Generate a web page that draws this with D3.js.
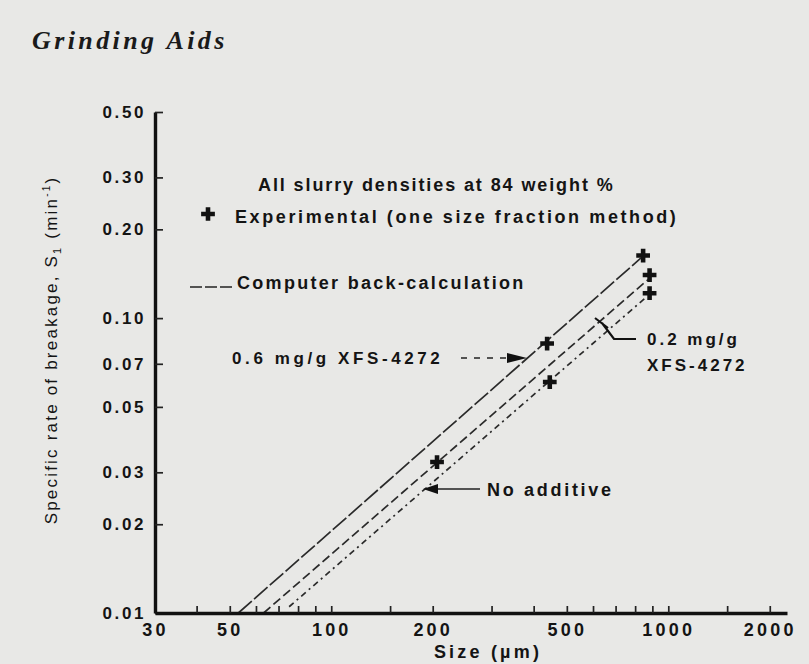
<!DOCTYPE html>
<html>
<head>
<meta charset="utf-8">
<script src="https://cdn.jsdelivr.net/npm/d3@7"></script>
<style>
  body { margin: 0; background: #e8e8e6; }
  svg { display: block; }
  .lbl { font-family: "Liberation Sans", Arial, sans-serif; font-weight: bold; fill: #141414; }
</style>
</head>
<body>
<svg id="chart"></svg>
<script>
const width = 809
const height = 664

// ticks
const yTicks = [0.01, 0.02, 0.03, 0.05, 0.07, 0.1, 0.2, 0.3, 0.5]
const xMajor = [30, 50, 100, 200, 500, 1000, 2000]
const xMinor = [40, 60, 70, 80, 90, 150, 300, 400, 600, 700, 800, 900, 1500]

// experimental points (one size fraction method)
const expSize06 = [437, 842]
const expRate06 = [0.082, 0.163]
const expSize02 = [206, 880]
const expRate02 = [0.0325, 0.14]
const expSizeNone = [445, 880]
const expRateNone = [0.0607, 0.1215]

// computer back-calculation lines
const fitSize06 = [53, 830]
const fitRate06 = [0.01, 0.16]
const fitSize02 = [63, 870]
const fitRate02 = [0.01, 0.135]
const fitSizeNone = [75, 862]
const fitRateNone = [0.0105, 0.118]

const x = d3.scaleLog().domain([30, 2250]).range([155, 787])
const y = d3.scaleLog().domain([0.01, 0.5]).range([613, 112])

const svg = d3.select('#chart').attr('width', width).attr('height', height)

// title
svg.append('text')
  .attr('x', 32).attr('y', 49)
  .style('font-family', '"Liberation Serif", "DejaVu Serif", serif')
  .style('font-weight', 'bold').style('font-style', 'italic')
  .style('font-size', '26px').style('letter-spacing', '3.4px')
  .style('fill', '#1a1a1a')
  .text('Grinding Aids')

// fitted lines
const lines = [
  { size: fitSize06, rate: fitRate06, dash: '18,3' },
  { size: fitSize02, rate: fitRate02, dash: '9,4' },
  { size: fitSizeNone, rate: fitRateNone, dash: '6,4,2,4' }
]
const line = d3.line().x(d => x(d[0])).y(d => y(d[1]))
svg.selectAll('path.fit')
  .data(lines)
  .enter()
  .append('path')
  .attr('class', 'fit')
  .attr('d', d => line(d.size.map((s, i) => [s, d.rate[i]])))
  .attr('fill', 'none')
  .attr('stroke', '#2a2a2a')
  .attr('stroke-width', 1.7)
  .attr('stroke-dasharray', d => d.dash)

// experimental crosses
const points = []
;[[expSize06, expRate06], [expSize02, expRate02], [expSizeNone, expRateNone]].forEach(([s, r]) => {
  s.forEach((v, i) => points.push([v, r[i]]))
})
const cross = d3.symbol().type(d3.symbolCross).size(105)
svg.selectAll('path.pt')
  .data(points)
  .enter()
  .append('path')
  .attr('class', 'pt')
  .attr('d', cross)
  .attr('transform', d => `translate(${x(d[0])},${y(d[1])})`)
  .attr('fill', '#111')

// y axis
const yAxis = d3.axisLeft(y)
  .tickValues(yTicks)
  .tickFormat(d3.format('.2f'))
  .tickSizeInner(-8)
  .tickSizeOuter(0)
  .tickPadding(9)
const gy = svg.append('g').attr('transform', 'translate(155,0)').call(yAxis)
gy.select('.domain').attr('stroke', '#111').attr('stroke-width', 3.4)
gy.selectAll('.tick line').attr('stroke', '#222').attr('stroke-width', 1.7)
gy.selectAll('.tick text')
  .attr('class', 'lbl')
  .style('font-size', '17px')
  .style('letter-spacing', '2.6px')

// x axis
const xAxis = d3.axisBottom(x)
  .tickValues(xMajor)
  .tickFormat(d3.format('d'))
  .tickSizeInner(-7)
  .tickSizeOuter(0)
  .tickPadding(10)
const gx = svg.append('g').attr('transform', 'translate(0,613)').call(xAxis)
gx.select('.domain').attr('stroke', '#111').attr('stroke-width', 3.4)
gx.selectAll('.tick line').attr('stroke', '#222').attr('stroke-width', 1.7)
gx.selectAll('.tick text')
  .attr('class', 'lbl')
  .style('font-size', '18px')
  .style('letter-spacing', '3.2px')
gx.selectAll('.tick').filter(d => d === 30).select('line').remove()

svg.append('g')
  .selectAll('line')
  .data(xMinor)
  .enter()
  .append('line')
  .attr('x1', d => x(d)).attr('x2', d => x(d))
  .attr('y1', 613).attr('y2', 606)
  .attr('stroke', '#222')
  .attr('stroke-width', 1.7)

// axis titles
svg.append('text')
  .attr('class', 'lbl')
  .attr('transform', 'translate(57,350) rotate(-90)')
  .attr('text-anchor', 'middle')
  .style('font-size', '17px')
  .style('font-weight', 'normal')
  .style('letter-spacing', '2.2px')
  .html('Specific rate of breakage, S<tspan dy="4" font-size="11">1</tspan><tspan dy="-4">  (min</tspan><tspan dy="-7" font-size="10">-1</tspan><tspan dy="7">)</tspan>')

svg.append('text')
  .attr('class', 'lbl')
  .attr('x', 488).attr('y', 658)
  .attr('text-anchor', 'middle')
  .style('font-size', '18px')
  .style('letter-spacing', '3.2px')
  .text('Size (\u00b5m)')

// legend
const legend = svg.append('g')
legend.append('text')
  .attr('class', 'lbl')
  .attr('x', 258).attr('y', 191)
  .style('font-size', '18px').style('letter-spacing', '1.9px')
  .text('All slurry densities at 84 weight %')
legend.append('path')
  .attr('d', cross)
  .attr('transform', 'translate(208,214)')
  .attr('fill', '#111')
legend.append('text')
  .attr('class', 'lbl')
  .attr('x', 235).attr('y', 223)
  .style('font-size', '18px').style('letter-spacing', '2.6px')
  .text('Experimental (one size fraction method)')
legend.append('line')
  .attr('x1', 190).attr('x2', 232).attr('y1', 287).attr('y2', 287)
  .attr('stroke', '#222').attr('stroke-width', 1.7)
  .attr('stroke-dasharray', '12,3')
legend.append('text')
  .attr('class', 'lbl')
  .attr('x', 237).attr('y', 289)
  .style('font-size', '18px').style('letter-spacing', '2.3px')
  .text('Computer back-calculation')

// annotations
const ann = svg.append('g')
ann.append('text')
  .attr('class', 'lbl')
  .attr('x', 232).attr('y', 364)
  .style('font-size', '17px').style('letter-spacing', '3.6px')
  .text('0.6 mg/g XFS-4272')
ann.append('line')
  .attr('x1', 461).attr('x2', 514).attr('y1', 358).attr('y2', 358)
  .attr('stroke', '#222').attr('stroke-width', 1.7)
  .attr('stroke-dasharray', '6,7')
ann.append('path')
  .attr('d', 'M507,353 L527,358 L507,363 Z')
  .attr('fill', '#111')

ann.append('path')
  .attr('d', 'M595,318 L608,328 M602,323 L614,339 L636,339')
  .attr('fill', 'none').attr('stroke', '#111').attr('stroke-width', 2.2)
ann.append('text')
  .attr('class', 'lbl')
  .attr('x', 647).attr('y', 345)
  .style('font-size', '17px').style('letter-spacing', '3px')
  .text('0.2 mg/g')
ann.append('text')
  .attr('class', 'lbl')
  .attr('x', 647).attr('y', 371)
  .style('font-size', '17px').style('letter-spacing', '3px')
  .text('XFS-4272')

ann.append('line')
  .attr('x1', 434).attr('x2', 480).attr('y1', 489).attr('y2', 489)
  .attr('stroke', '#222').attr('stroke-width', 1.7)
ann.append('path')
  .attr('d', 'M423,489 L438,484 L438,494 Z')
  .attr('fill', '#111')
ann.append('text')
  .attr('class', 'lbl')
  .attr('x', 487).attr('y', 496)
  .style('font-size', '18px').style('letter-spacing', '2.7px')
  .text('No additive')
</script>
</body>
</html>
